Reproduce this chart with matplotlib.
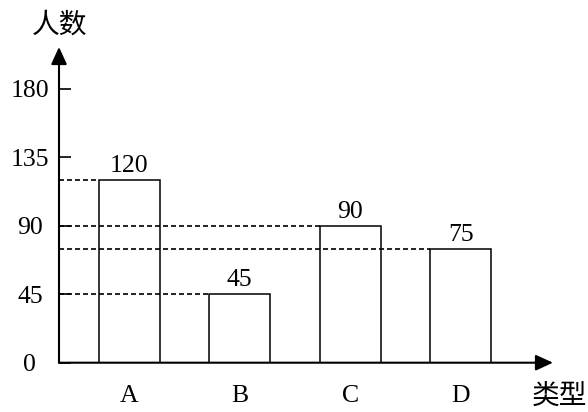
import matplotlib
matplotlib.use("Agg")
import matplotlib.pyplot as plt

plt.rcParams["font.family"] = ["Liberation Serif", "Noto Sans CJK SC", "DejaVu Sans"]

categories = ["A", "B", "C", "D"]
counts = [120, 45, 90, 75]
y_ticks = [0, 45, 90, 135, 180]

W, H = 588, 412
fig = plt.figure(figsize=(W / 100, H / 100), dpi=100)
# 轴的像素范围：原点(59, 362.7)，x 箭头到 553，y 箭头到 47
x0, x1, y0, y1 = 59, 553, 362.7, 47
ax = fig.add_axes([x0 / W, (H - y0) / H, (x1 - x0) / W, (y0 - y1) / H])

bar_w = 0.55
xs = range(len(categories))
ax.bar(xs, counts, width=bar_w, color="white", edgecolor="black", linewidth=1.1, zorder=2)

xmin, xmax = -0.636, 3.834
ymax = (y0 - y1) / ((y0 - 89) / 180)
ax.set_xlim(xmin, xmax)
ax.set_ylim(0, ymax)

# 虚线：从纵轴引到各柱左上角（画在柱子上层，穿过前面的柱子）
for i, v in enumerate(counts):
    ax.plot([xmin, i - bar_w / 2], [v, v], color="black", lw=1.2,
            dashes=(3, 1.8), zorder=3)
    ax.annotate(str(v), (i, v), xytext=(0, 2), textcoords="offset points",
                ha="center", va="bottom", fontsize=18.5)

# 带箭头的坐标轴
for s in ax.spines.values():
    s.set_visible(False)
arrow = dict(arrowstyle="-|>,head_length=1.05,head_width=0.48", color="black",
             lw=1.5, shrinkA=0, shrinkB=0)
ax.annotate("", xy=(0, 1), xytext=(0, 0), xycoords="axes fraction", arrowprops=arrow)
ax.annotate("", xy=(1, 0), xytext=(0, 0), xycoords="axes fraction", arrowprops=arrow)

ax.set_yticks(y_ticks)
ax.set_yticklabels([str(t) for t in y_ticks], fontsize=18.5)
ax.tick_params(axis="y", direction="in", length=8.5, width=1.2, pad=21)
for lab in ax.get_yticklabels():
    lab.set_horizontalalignment("center")

ax.set_xticks(list(xs))
ax.set_xticklabels(categories, fontsize=18.5)
ax.tick_params(axis="x", length=0, pad=16)

fig.text(59.5 / W, 1 - 25 / H, "人数", ha="center", va="center", fontsize=20,
         family=["Noto Sans CJK SC"])
fig.text(532 / W, 1 - 396 / H, "类型", ha="left", va="center", fontsize=20,
         family=["Noto Sans CJK SC"])

fig.savefig("out.png", dpi=100, facecolor="white")
